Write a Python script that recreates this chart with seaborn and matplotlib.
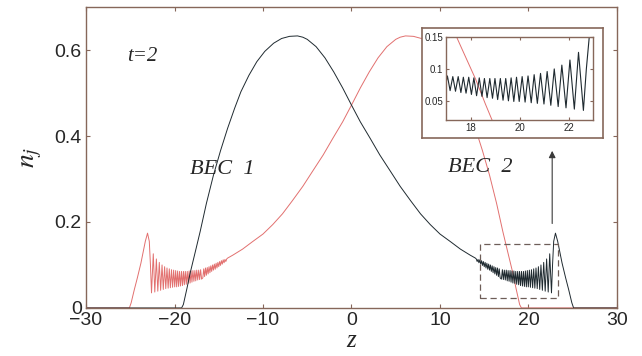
import matplotlib
matplotlib.use('Agg')
import matplotlib.pyplot as plt
from matplotlib.patches import Rectangle
import pandas as pd
import seaborn as sns

# BEC 1 density at t=2 (smooth part + oscillating tail)
z_smooth = [-30.0, -19.2, -19.0, -18.6, -18.2, -17.6, -17.1, -16.4, -15.6, -14.8, -14.0,
            -13.2, -12.5, -11.6, -10.7, -9.8, -8.8, -7.9, -7.0, -6.1, -5.5, -5.0,
            -4.0, -3.0, -2.0, -1.0, 0.0, 1.0, 2.1, 3.2, 4.4, 5.5, 6.7, 7.8, 8.9,
            10.0, 11.2, 12.3, 13.4, 14.0]
n_smooth = [0.0, 0.0, 0.008, 0.045, 0.084, 0.135, 0.178, 0.243, 0.309, 0.366, 0.418,
            0.465, 0.503, 0.541, 0.573, 0.597, 0.616, 0.627, 0.632, 0.633, 0.630, 0.625,
            0.608, 0.582, 0.549, 0.512, 0.472, 0.433, 0.395, 0.356, 0.318, 0.283, 0.249,
            0.219, 0.194, 0.172, 0.154, 0.137, 0.123, 0.116]

# alternating maxima / minima of the oscillations near the right edge
z_osc = [14.1, 14.2, 14.3, 14.4, 14.5, 14.6, 14.7, 14.8, 14.9, 15.0, 15.1, 15.2,
         15.3, 15.4, 15.5, 15.6, 15.7, 15.8, 15.9, 16.0, 16.1, 16.2, 16.3, 16.4,
         16.5, 16.6, 16.7, 16.8,
         16.94, 17.05, 17.16, 17.27, 17.38, 17.49, 17.60, 17.70, 17.81, 17.92,
         18.03, 18.13, 18.24, 18.35, 18.46, 18.56, 18.67, 18.78, 18.89, 18.99,
         19.10, 19.21, 19.32, 19.43, 19.54, 19.65, 19.76, 19.87, 19.98, 20.10,
         20.22, 20.34, 20.47, 20.59, 20.72, 20.85, 20.99, 21.12, 21.27, 21.41,
         21.57, 21.72, 21.89, 22.05, 22.23, 22.40, 22.60]
n_osc = [0.114, 0.108, 0.113, 0.105, 0.112, 0.102, 0.110, 0.099, 0.108, 0.096, 0.106, 0.093,
         0.104, 0.090, 0.102, 0.088, 0.100, 0.085, 0.098, 0.082, 0.096, 0.079, 0.094, 0.076,
         0.093, 0.073, 0.091, 0.070,
         0.067, 0.089, 0.066, 0.088, 0.065, 0.088, 0.063, 0.087, 0.062, 0.087,
         0.060, 0.086, 0.058, 0.086, 0.057, 0.085, 0.055, 0.085, 0.054, 0.085,
         0.052, 0.085, 0.051, 0.085, 0.050, 0.086, 0.049, 0.087, 0.049, 0.088,
         0.048, 0.089, 0.047, 0.091, 0.046, 0.093, 0.045, 0.096, 0.043, 0.100,
         0.041, 0.106, 0.039, 0.114, 0.037, 0.126, 0.035]

# final hump and fall-off
z_edge = [22.72, 22.85, 23.05, 23.3, 23.8, 24.2, 24.55, 24.9, 25.1, 30.0]
n_edge = [0.100, 0.155, 0.174, 0.155, 0.104, 0.070, 0.042, 0.012, 0.0, 0.0]

z1 = z_smooth + z_osc + z_edge
n1 = n_smooth + n_osc + n_edge
# BEC 2 is the mirror image of BEC 1 in the figure
z2 = [-z for z in reversed(z1)]
n2 = list(reversed(n1))

df1 = pd.DataFrame({'z': z1, 'n': n1})
df2 = pd.DataFrame({'z': z2, 'n': n2})

sns.set_style('ticks')
plt.rcParams['font.family'] = ['Liberation Sans', 'DejaVu Sans']
plt.rcParams['mathtext.fontset'] = 'stix'

spine_c = '#86675a'
black_c = '#1f2a30'
red_c = '#e2706f'

fig = plt.figure(figsize=(6.42, 3.56), dpi=100)
ax = fig.add_axes([0.134, 0.135, 0.827, 0.845])

sns.lineplot(data=df2, x='z', y='n', ax=ax, color=red_c, lw=0.7, estimator=None, sort=False)
sns.lineplot(data=df1, x='z', y='n', ax=ax, color=black_c, lw=0.7, estimator=None, sort=False)

ax.set_xlim(-30, 30)
ax.set_ylim(0, 0.7)
ax.set_xticks([-30, -20, -10, 0, 10, 20, 30])
ax.set_yticks([0, 0.2, 0.4, 0.6])
ax.set_yticklabels(['0', '0.2', '0.4', '0.6'])
ax.tick_params(direction='in', top=True, right=True, length=3, color=spine_c,
               labelsize=14, pad=3)
for s in ax.spines.values():
    s.set_color(spine_c)
    s.set_linewidth(1.0)
ax.set_xlabel('z', fontsize=18, fontfamily='Liberation Serif', fontstyle='italic', labelpad=1)
ax.set_ylabel(r'$n_j$', fontsize=20, labelpad=8)

ax.text(-23.6, 0.584, 't=2', fontsize=15, fontfamily='Liberation Serif',
        fontstyle='italic', ha='center', va='center')
ax.text(-14.6, 0.321, 'BEC  1', fontsize=16, fontfamily='Liberation Serif',
        fontstyle='italic', ha='center', va='center')
ax.text(14.5, 0.326, 'BEC  2', fontsize=16, fontfamily='Liberation Serif',
        fontstyle='italic', ha='center', va='center')

ax.add_patch(Rectangle((14.5, 0.023), 8.8, 0.126, fill=False, ls=(0, (5, 3)),
                       ec='#6e5e58', lw=0.9, zorder=5))
ax.annotate('', xy=(22.68, 0.372), xytext=(22.68, 0.19),
            arrowprops=dict(arrowstyle='-|>', color='#3a3a3a', lw=0.8,
                            mutation_scale=10))

# inset frame and inset axes
frame = fig.add_axes([0.657, 0.612, 0.282, 0.309])
frame.set_xticks([])
frame.set_yticks([])
frame.set_facecolor('white')
for s in frame.spines.values():
    s.set_color(spine_c)
    s.set_linewidth(1.2)

ins = fig.add_axes([0.695, 0.663, 0.229, 0.233])
sns.lineplot(data=df2, x='z', y='n', ax=ins, color=red_c, lw=0.7, estimator=None, sort=False)
sns.lineplot(data=df1, x='z', y='n', ax=ins, color=black_c, lw=0.8, estimator=None, sort=False)
ins.set_xlim(17, 23)
ins.set_ylim(0.02, 0.15)
ins.set_xticks([18, 20, 22])
ins.set_yticks([0.05, 0.1, 0.15])
ins.set_yticklabels(['0.05', '0.1', '0.15'])
ins.set_xlabel('')
ins.set_ylabel('')
ins.tick_params(direction='in', top=True, right=True, length=2, color=spine_c,
                labelsize=7, pad=2)
for s in ins.spines.values():
    s.set_color(spine_c)
    s.set_linewidth(1.0)

fig.savefig('out.png', dpi=100)
